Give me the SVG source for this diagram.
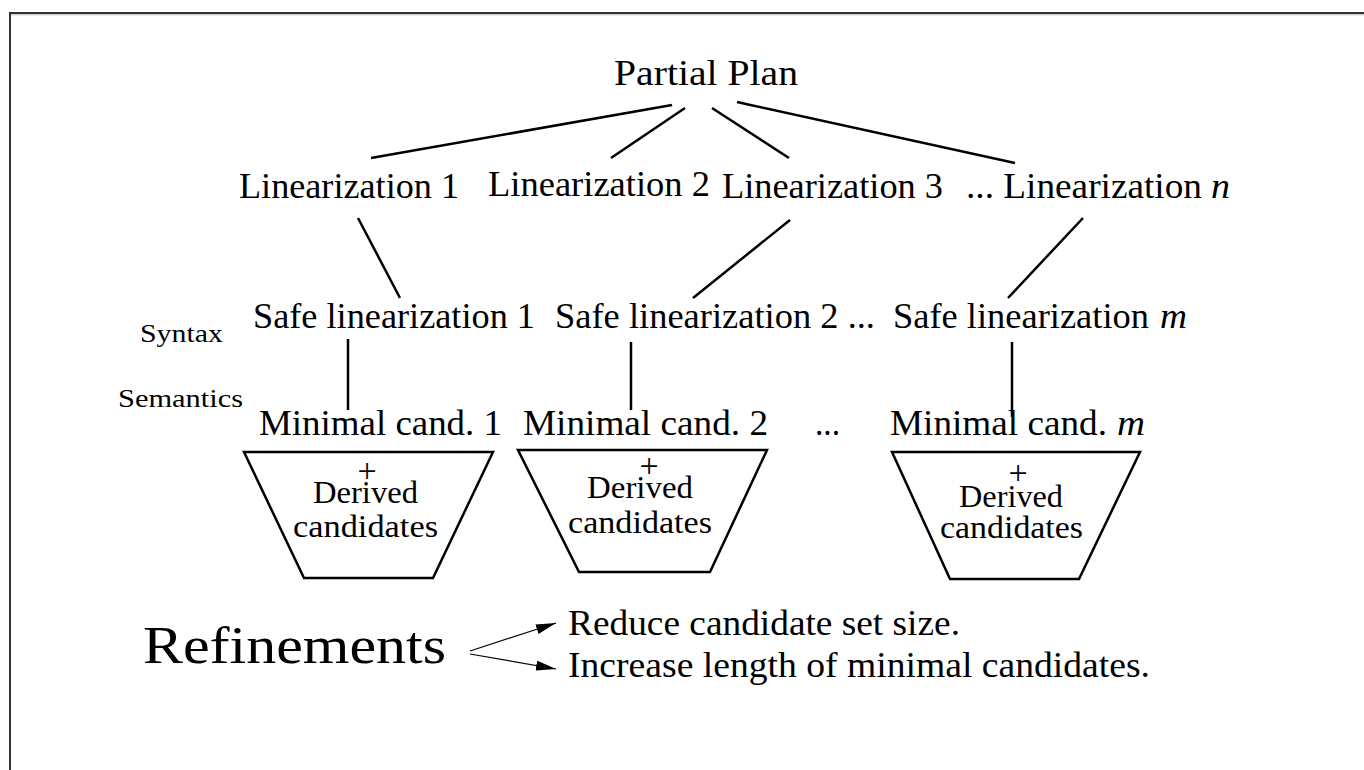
<svg xmlns="http://www.w3.org/2000/svg" width="1364" height="770" viewBox="0 0 1364 770">
<defs>
<style>
text{font-family:"Liberation Serif","DejaVu Serif",serif;fill:#000}
.t{font-size:36px}
.i{font-size:36px;font-style:italic}
.s{font-size:26px}
.d{font-size:31px}
.p{font-size:34px}
.big{font-size:52px}
.r{font-size:35px}
.c{stroke:#000;stroke-width:2.5;fill:none;stroke-linecap:butt}
.trap{stroke:#000;stroke-width:2.5;fill:#fff}
.a{stroke:#000;stroke-width:1.2;fill:none}
</style>
<marker id="ah" viewBox="0 0 20 10" refX="20" refY="5" markerWidth="20" markerHeight="10" markerUnits="userSpaceOnUse" orient="auto">
<path d="M0,0 L20,5 L0,10 Z" fill="#000"/>
</marker>
</defs>
<rect x="0" y="0" width="1364" height="770" fill="#fff"/>
<g id="frame">
<rect x="10" y="13" width="1400" height="800" fill="none" stroke="#333" stroke-width="2"/>
<line x1="11" y1="14.8" x2="1364" y2="14.8" stroke="#bbb" stroke-width="1"/>
</g>
<g id="connectors">
<line class="c" x1="672" y1="105" x2="371" y2="158"/>
<line class="c" x1="685" y1="108" x2="611" y2="158"/>
<line class="c" x1="712" y1="108" x2="789" y2="158"/>
<line class="c" x1="737" y1="102" x2="1015" y2="163"/>
<line class="c" x1="358" y1="218" x2="400" y2="298"/>
<line class="c" x1="348" y1="339" x2="348" y2="410"/>
<line class="c" x1="790" y1="220" x2="693" y2="298"/>
<line class="c" x1="631" y1="342" x2="631" y2="410"/>
<line class="c" x1="1083" y1="218" x2="1008" y2="298"/>
<line class="c" x1="1012" y1="342" x2="1012" y2="417"/>
<line class="a" x1="470" y1="651" x2="556" y2="623" marker-end="url(#ah)"/>
<line class="a" x1="470" y1="654" x2="556" y2="669" marker-end="url(#ah)"/>
</g>
<g id="partial-plan"><text class="t" x="614" y="85" textLength="184" lengthAdjust="spacingAndGlyphs">Partial Plan</text></g>
<g id="lin1"><text class="t" x="239" y="198" textLength="220" lengthAdjust="spacingAndGlyphs">Linearization 1</text></g>
<g id="lin2"><text class="t" x="488" y="196" textLength="222" lengthAdjust="spacingAndGlyphs">Linearization 2</text></g>
<g id="lin3"><text class="t" x="722" y="198" textLength="221" lengthAdjust="spacingAndGlyphs">Linearization 3</text></g>
<g id="linn">
<text class="t" x="966" y="198" textLength="236" lengthAdjust="spacingAndGlyphs">... Linearization</text>
<text class="i" x="1211" y="198" textLength="19" lengthAdjust="spacingAndGlyphs">n</text>
</g>
<g id="syntax"><text class="s" x="140" y="342" textLength="83" lengthAdjust="spacingAndGlyphs">Syntax</text></g>
<g id="semantics"><text class="s" x="118" y="407" textLength="125" lengthAdjust="spacingAndGlyphs">Semantics</text></g>
<g id="safe1"><text class="t" x="253" y="328" textLength="282" lengthAdjust="spacingAndGlyphs">Safe linearization 1</text></g>
<g id="safe2"><text class="t" x="555" y="328" textLength="320" lengthAdjust="spacingAndGlyphs">Safe linearization 2 ...</text></g>
<g id="safem">
<text class="t" x="893" y="328" textLength="256" lengthAdjust="spacingAndGlyphs">Safe linearization</text>
<text class="i" x="1160" y="328" textLength="27" lengthAdjust="spacingAndGlyphs">m</text>
</g>
<g id="min1"><text class="t" x="259" y="435" textLength="243" lengthAdjust="spacingAndGlyphs">Minimal cand. 1</text></g>
<g id="min2"><text class="t" x="523" y="435" textLength="245" lengthAdjust="spacingAndGlyphs">Minimal cand. 2</text></g>
<g id="dots"><text class="t" x="815" y="435" textLength="25" lengthAdjust="spacingAndGlyphs">...</text></g>
<g id="minm">
<text class="t" x="890" y="435" textLength="217" lengthAdjust="spacingAndGlyphs">Minimal cand.</text>
<text class="i" x="1117" y="435" textLength="28" lengthAdjust="spacingAndGlyphs">m</text>
</g>
<g id="trap1">
<polygon class="trap" points="244,452 493,452 433,578 304,578"/>
<text class="p" x="367" y="482" text-anchor="middle">+</text>
<text class="d" x="313" y="503" textLength="105" lengthAdjust="spacingAndGlyphs">Derived</text>
<text class="d" x="293" y="537" textLength="145" lengthAdjust="spacingAndGlyphs">candidates</text>
</g>
<g id="trap2">
<polygon class="trap" points="518,450 767,450 710,572 579,572"/>
<text class="p" x="649" y="477" text-anchor="middle">+</text>
<text class="d" x="587" y="498" textLength="106" lengthAdjust="spacingAndGlyphs">Derived</text>
<text class="d" x="568" y="533" textLength="144" lengthAdjust="spacingAndGlyphs">candidates</text>
</g>
<g id="trap3">
<polygon class="trap" points="892,452 1140,452 1079,579 950,579"/>
<text class="p" x="1018" y="484" text-anchor="middle">+</text>
<text class="d" x="959" y="507" textLength="104" lengthAdjust="spacingAndGlyphs">Derived</text>
<text class="d" x="940" y="538" textLength="143" lengthAdjust="spacingAndGlyphs">candidates</text>
</g>
<g id="refinements"><text class="big" x="143" y="663" textLength="303" lengthAdjust="spacingAndGlyphs">Refinements</text></g>
<g id="reduce"><text class="r" x="568" y="635" textLength="392" lengthAdjust="spacingAndGlyphs">Reduce candidate set size.</text></g>
<g id="increase"><text class="r" x="568" y="677" textLength="582" lengthAdjust="spacingAndGlyphs">Increase length of minimal candidates.</text></g>
</svg>
